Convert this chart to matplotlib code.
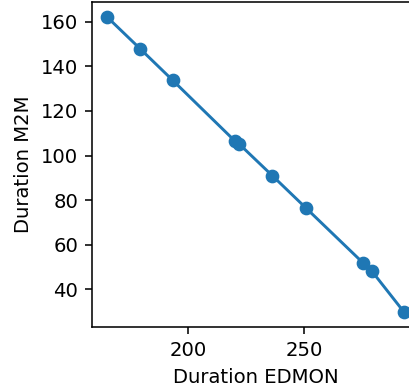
import matplotlib
matplotlib.use('Agg')
import matplotlib.pyplot as plt
from matplotlib.ticker import MultipleLocator

# durations
duration_edmon = [165.0, 179.3, 193.4, 220.3, 222.0, 236.3, 250.6, 275.3, 279.2, 293.1]
duration_m2m = [162.2, 147.9, 133.7, 106.4, 105.2, 91.0, 76.7, 52.0, 48.2, 29.8]

dpi = 141
fig = plt.figure(figsize=(409 / dpi, 388 / dpi), dpi=dpi)

# axes run a little past the right edge, like the cropped reference
ax = fig.add_axes([92 / 409, 61 / 388, 327 / 409, 325 / 388])
ax.plot(duration_edmon, duration_m2m, 'o-', color='C0')
ax.xaxis.set_major_locator(MultipleLocator(50))

ax.set_xlabel('Duration EDMON')
ax.set_ylabel('Duration M2M')

fig.savefig('out.png', dpi=dpi)
